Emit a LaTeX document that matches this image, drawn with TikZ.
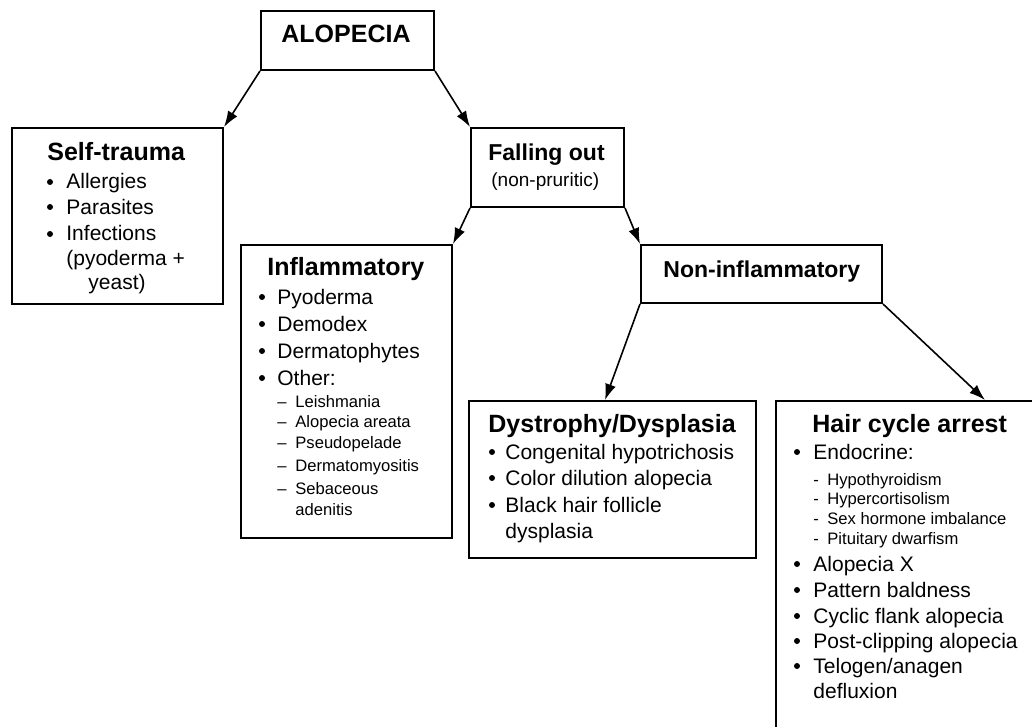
\documentclass[tikz,border=0pt]{standalone}
\usepackage{fontspec}
\setmainfont{Liberation Sans}
\usetikzlibrary{calc,arrows.meta}

\begin{document}
\begin{tikzpicture}[x=0.5pt,y=-0.5pt,
  box/.style={draw, line width=1pt, inner sep=0pt, anchor=north west},
  head/.style={font=\bfseries\fontsize{12.5}{15}\selectfont, anchor=base west, inner sep=0pt},
  subhead/.style={font=\bfseries\fontsize{11.5}{14}\selectfont, anchor=base west, inner sep=0pt},
  item/.style={font=\fontsize{10.5}{12.5}\selectfont, anchor=base west, inner sep=0pt},
  note/.style={font=\fontsize{9.5}{11}\selectfont, anchor=base west, inner sep=0pt},
  small/.style={font=\fontsize{8.3}{10}\selectfont, anchor=base west, inner sep=0pt},
  dot/.style={radius=1.5pt},
  link/.style={line width=0.8pt, -{Latex[length=8pt,width=5.5pt]}}
]

% Picture frame
\clip (0,0) rectangle (1032,727);

% Boxes
\node[box, minimum width=86.5pt, minimum height=29.5pt] (alopecia) at (260,10) {};
\node[box, minimum width=105.5pt, minimum height=88pt] (self) at (11,127) {};
\node[box, minimum width=76.5pt, minimum height=39.5pt] (fall) at (470,127) {};
\node[box, minimum width=105.5pt, minimum height=146.5pt] (infl) at (240,244) {};
\node[box, minimum width=120.5pt, minimum height=29pt] (noninf) at (640,244) {};
\node[box, minimum width=143.5pt, minimum height=78.5pt] (dys) at (468,400) {};
\node[box, minimum width=135pt, minimum height=172.5pt] (hair) at (775,400) {};

% Arrows
\draw[link] (alopecia.south west) -- (self.north east);
\draw[link] (alopecia.south east) -- (fall.north west);
\draw[link] (fall.south west) -- (infl.north east);
\draw[link] (fall.south east) -- (noninf.north west);
\draw[link] (noninf.south west) -- ($(dys.north west)+(137,0)$);
\draw[link] (noninf.south east) -- ($(hair.north west)+(210,0)$);

% Top
\node[head] (alopecia-txt) at (281,43) {ALOPECIA};

% Self-trauma
\node[head] (self-head) at (47,161) {Self-trauma};
\foreach \y/\txt [count=\i] in {189/Allergies, 214/Parasites, 241/Infections}{
  \fill (50,\y-7) circle[dot];
  \node[item] (self-\i) at (66,\y) {\txt};
}
\node[item] (self-4) at (66,265) {(pyoderma +};
\node[item] (self-5) at (88,289) {yeast)};

% Falling out
\node[subhead] (fall-head) at (488,161) {Falling out};
\node[note] (fall-note) at (491,187) {(non-pruritic)};

% Inflammatory
\node[head] (infl-head) at (267,275) {Inflammatory};
\foreach \y/\txt [count=\i] in {304/Pyoderma, 331/Demodex, 358/Dermatophytes, 385/Other:}{
  \fill (262,\y-7) circle[dot];
  \node[item] (infl-\i) at (277,\y) {\txt};
}
\foreach \y/\txt [count=\i] in {407/Leishmania, 427/Alopecia areata, 448/Pseudopelade, 471/Dermatomyositis, 494/Sebaceous}{
  \node[small] (infl-dash-\i) at (277,\y) {--};
  \node[small] (infl-sub-\i) at (295,\y) {\txt};
}
\node[small] (infl-sub-6) at (295,515) {adenitis};

% Non-inflammatory
\node[subhead] (noninf-head) at (663,277) {Non-inflammatory};

% Dystrophy/Dysplasia
\node[head] (dys-head) at (488,432) {Dystrophy/Dysplasia};
\foreach \y/\txt [count=\i] in {459/Congenital hypotrichosis, 485/Color dilution alopecia, 512/Black hair follicle}{
  \fill (492,\y-7) circle[dot];
  \node[item] (dys-\i) at (505,\y) {\txt};
}
\node[item] (dys-4) at (505,538) {dysplasia};

% Hair cycle arrest
\node[head] (hair-head) at (812,432) {Hair cycle arrest};
\fill (797,452) circle[dot];
\node[item] (hair-endo) at (813,459) {Endocrine:};
\foreach \y/\txt [count=\i] in {485/Hypothyroidism, 504/Hypercortisolism, 524/Sex hormone imbalance, 544/Pituitary dwarfism}{
  \node[small] (hair-dash-\i) at (813,\y) {-};
  \node[small] (hair-sub-\i) at (827,\y) {\txt};
}
\foreach \y/\txt [count=\i] in {571/Alopecia X, 597/Pattern baldness, 623/Cyclic flank alopecia, 648/Post-clipping alopecia, 673/{Telogen/anagen}}{
  \fill (797,\y-7) circle[dot];
  \node[item] (hair-\i) at (813,\y) {\txt};
}
\node[item] (hair-6) at (813,698) {defluxion};

\end{tikzpicture}
\end{document}
